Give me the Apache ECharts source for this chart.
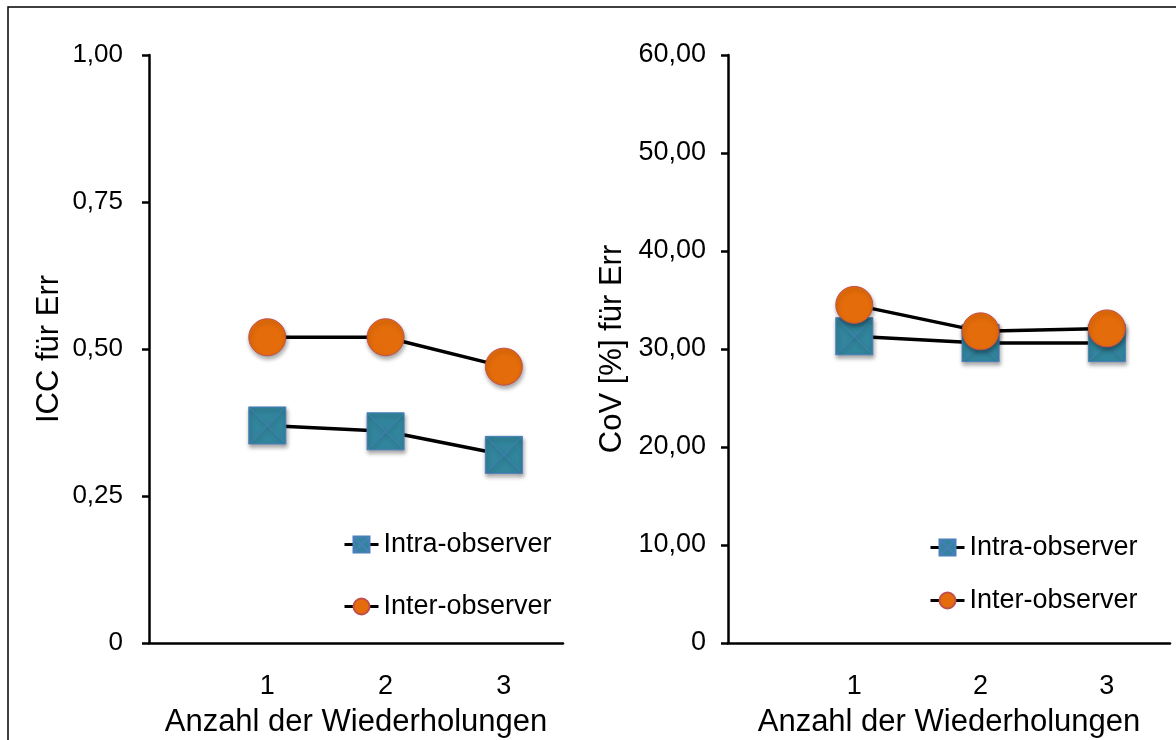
<!DOCTYPE html>
<html>
<head>
<meta charset="utf-8">
<script src="https://cdn.jsdelivr.net/npm/echarts@6/dist/echarts.min.js"></script>
<style>html,body{margin:0;padding:0;background:#fff}#c{width:1176px;height:740px}</style>
</head>
<body>
<div id="c"></div>
<script>
const reps = [1, 2, 3];
const iccIntra = [0.37, 0.36, 0.32];
const iccInter = [0.52, 0.52, 0.47];
const covIntra = [31.3, 30.6, 30.6];
const covInter = [34.5, 31.8, 32.1];
const seriesNames = ['Intra-observer', 'Inter-observer'];
const xAxisName = 'Anzahl der Wiederholungen';
const yNames = ['ICC für Err', 'CoV [%] für Err'];

const FONT = '"Liberation Sans", Arial, sans-serif';
const TEAL = '#31859C', ORANGE = '#E46C0A';
const SQ = 'path://M0,0H10V10H0Z M0,0L10,10M10,0L0,10';

function fmt(v) { return v === 0 ? '0' : v.toFixed(2).replace('.', ','); }
function pts(vals) { return reps.map((r, i) => [r, vals[i]]); }

const chart = echarts.init(document.getElementById('c'), null, {renderer: 'canvas'});

function xAxis(gi) {
  return {
    type: 'value', gridIndex: gi, min: 0, max: 3.5, interval: 1,
    name: xAxisName, nameLocation: 'middle', nameGap: 64,
    nameTextStyle: {fontFamily: FONT, fontSize: 31, color: '#000'},
    axisLine: {show: true, onZero: false, lineStyle: {color: '#000', width: 2.5}},
    axisTick: {show: false}, splitLine: {show: false},
    axisLabel: {fontFamily: FONT, fontSize: 27, color: '#000', margin: 30,
      showMaxLabel: false, showMinLabel: true,
      formatter: v => (v >= 1 && v <= 3 && Number.isInteger(v)) ? String(v) : ''}
  };
}
function yAxis(gi, max, interval, name, nameGap, margin, size) {
  return {
    type: 'value', gridIndex: gi, min: 0, max: max, interval: interval,
    name: name, nameLocation: 'middle', nameRotate: 90, nameGap: nameGap,
    nameTextStyle: {fontFamily: FONT, fontSize: 31, color: '#000'},
    axisLine: {show: true, lineStyle: {color: '#000', width: 2.5}},
    axisTick: {show: true, inside: false, length: 7, lineStyle: {color: '#000', width: 2.5}},
    splitLine: {show: false},
    axisLabel: {fontFamily: FONT, fontSize: size, color: '#000', margin: margin, formatter: fmt}
  };
}
function intra(gi, vals) {
  return {
    name: seriesNames[0], type: 'line', xAxisIndex: gi, yAxisIndex: gi, data: pts(vals),
    symbol: SQ, symbolSize: 37,
    lineStyle: {color: '#000', width: 3.5},
    itemStyle: {color: TEAL, borderColor: '#4A7EBB', borderWidth: 1,
      shadowBlur: 4, shadowColor: 'rgba(0,0,0,0.35)', shadowOffsetX: 1, shadowOffsetY: 3},
    z: 2
  };
}
function inter(gi, vals) {
  return {
    name: seriesNames[1], type: 'line', xAxisIndex: gi, yAxisIndex: gi, data: pts(vals),
    symbol: 'circle', symbolSize: 37,
    lineStyle: {color: '#000', width: 3.5},
    itemStyle: {color: ORANGE, borderColor: '#C0504D', borderWidth: 1,
      shadowBlur: 4, shadowColor: 'rgba(0,0,0,0.35)', shadowOffsetX: 1, shadowOffsetY: 3},
    z: 3
  };
}
function legend(left, top, gap) {
  return {
    orient: 'vertical', left: left, top: top, itemGap: gap, padding: 0,
    itemWidth: 34, itemHeight: 20,
    lineStyle: {width: 3, color: '#000'},
    itemStyle: {shadowBlur: 0, shadowOffsetX: 0, shadowOffsetY: 0},
    textStyle: {fontFamily: FONT, fontSize: 27, color: '#000'},
    data: seriesNames
  };
}

chart.setOption({
  backgroundColor: '#fff',
  animation: false,
  graphic: [{type: 'rect', shape: {x: 8, y: 7, width: 1200, height: 800},
    style: {fill: 'none', stroke: '#000', lineWidth: 1.5}, silent: true}],
  grid: [
    {left: 149, top: 55, width: 414, height: 588, outerBoundsMode: 'none', containLabel: false},
    {left: 728, top: 55, width: 442, height: 588, outerBoundsMode: 'none', containLabel: false}
  ],
  xAxis: [xAxis(0), xAxis(1)],
  yAxis: [yAxis(0, 1, 0.25, yNames[0], 84, 26, 26), yAxis(1, 60, 10, yNames[1], 100, 22, 27)],
  legend: [legend(343, 531, 35), legend(929, 534, 26)],
  series: [intra(0, iccIntra), inter(0, iccInter), intra(1, covIntra), inter(1, covInter)]
});
</script>
</body>
</html>
